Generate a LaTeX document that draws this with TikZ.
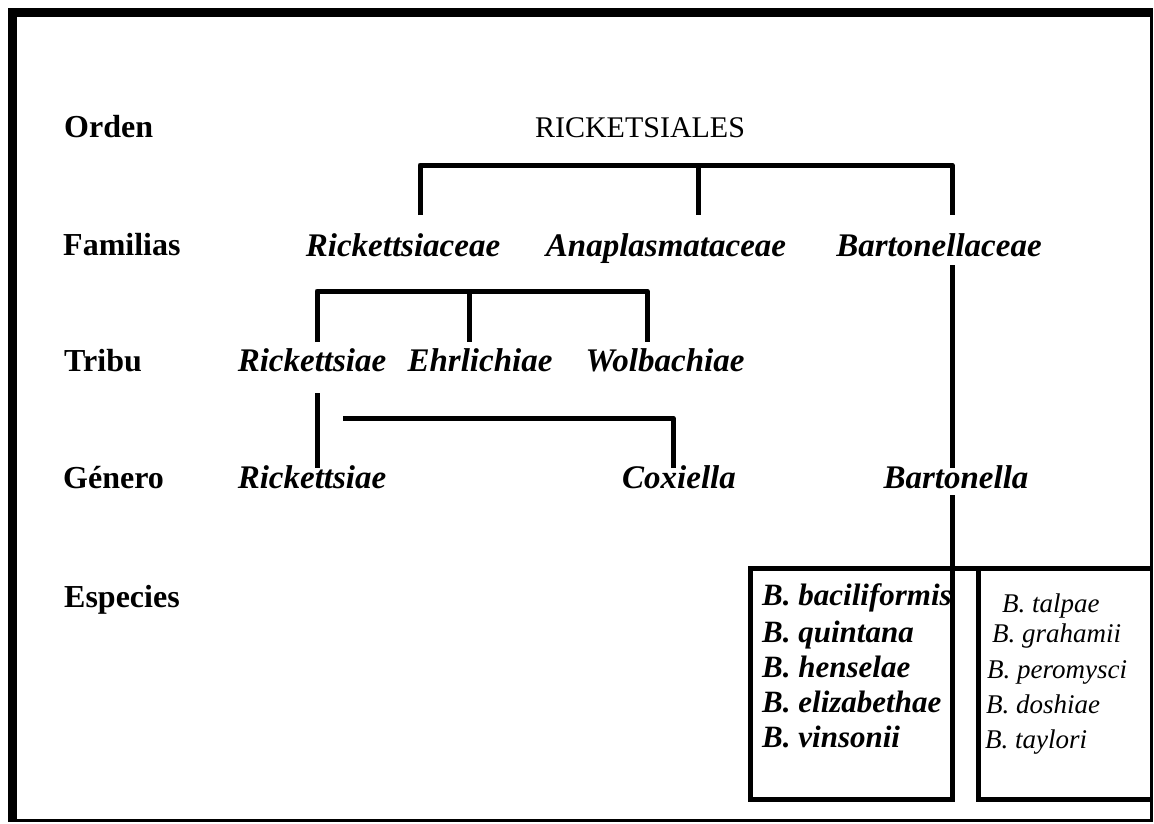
\documentclass[tikz,border=0pt]{standalone}
\usepackage{fontspec}
\setmainfont{Liberation Serif}
\begin{document}
\begin{tikzpicture}[x=1pt,y=-1pt,
 lbl/.style={anchor=base west,inner sep=0pt,font=\fontsize{32}{32}\selectfont\bfseries},
 top/.style={anchor=base,inner sep=0pt,font=\fontsize{30}{30}\selectfont},
 tax/.style={anchor=base,inner sep=0pt,font=\fontsize{33}{33}\selectfont\bfseries\itshape},
 spb/.style={anchor=base west,inner sep=0pt,font=\fontsize{31}{31}\selectfont\bfseries\itshape},
 spr/.style={anchor=base west,inner sep=0pt,font=\fontsize{27}{27}\selectfont\itshape},
 conn/.style={line width=5pt,line join=round},
 boxl/.style={line width=5pt,line join=miter}]
\useasboundingbox (0,0) rectangle (1154,823);
% outer frame
\fill (8,8) rectangle (17,822);
\fill (8,8) rectangle (1153,17);
\draw[line width=3pt] (1151,8) -- (1151,822);
\draw[line width=3pt] (8,820) -- (1153,820);
% rank labels
\node[lbl] (orden) at (64,137) {Orden};
\node[lbl] (familias) at (63,255) {Familias};
\node[lbl] (tribu) at (64,371) {Tribu};
\node[lbl] (genero) at (63,488) {Género};
\node[lbl] (especies) at (64,607) {Especies};
% taxa
\node[top] (ord) at (640,137) {RICKETSIALES};
\node[tax] (fam1) at (403,256) {Rickettsiaceae};
\node[tax] (fam2) at (666,256) {Anaplasmataceae};
\node[tax] (fam3) at (939,256) {Bartonellaceae};
\node[tax] (tri1) at (312,371) {Rickettsiae};
\node[tax] (tri2) at (480,371) {Ehrlichiae};
\node[tax] (tri3) at (665,371) {Wolbachiae};
\node[tax] (gen1) at (312,488) {Rickettsiae};
\node[tax] (gen2) at (679,488) {Coxiella};
\node[tax] (gen3) at (956,488) {Bartonella};
% species
\node[spb] (s1) at (762,605) {B. baciliformis};
\node[spb] (s2) at (762,642) {B. quintana};
\node[spb] (s3) at (762,677) {B. henselae};
\node[spb] (s4) at (762,712) {B. elizabethae};
\node[spb] (s5) at (762,747) {B. vinsonii};
\node[spr] (t1) at (1002,612) {B. talpae};
\node[spr] (t2) at (992,642) {B. grahamii};
\node[spr] (t3) at (987,678) {B. peromysci};
\node[spr] (t4) at (986,713) {B. doshiae};
\node[spr] (t5) at (985,748) {B. taylori};
% connector coordinates
\coordinate (rbar) at (698,165);
\coordinate (r1) at (420,215);
\coordinate (r2) at (698,215);
\coordinate (r3) at (952,215);
\coordinate (b1) at (952,265);
\coordinate (b2) at (952,468);
\coordinate (b3) at (952,495);
\coordinate (b4) at (952,568);
\coordinate (fbar) at (469,291);
\coordinate (f1) at (317,342);
\coordinate (f2) at (469,342);
\coordinate (f3) at (647,342);
\coordinate (g1) at (317,393);
\coordinate (g2) at (317,468);
\coordinate (c1) at (343,418);
\coordinate (c2) at (673,468);
% connectors
\draw[conn] (r1) |- (rbar) -| (r3);
\draw[conn] (rbar) -- (r2);
\draw[conn] (b1) -- (b2);
\draw[conn] (b3) -- (b4);
\draw[conn] (f1) |- (fbar) -| (f3);
\draw[conn] (fbar) -- (f2);
\draw[conn] (g1) -- (g2);
\draw[conn] (c1) -| (c2);
% species boxes
\coordinate (bx1) at (750,568);
\coordinate (bx2) at (952,799);
\coordinate (bx3) at (978,568);
\coordinate (bx4) at (1151,568);
\coordinate (bx5) at (1151,799);
\draw[boxl] (bx1) rectangle (bx2);
\draw[boxl] (bx1) -- (bx4);
\draw[boxl] (bx3) |- (bx5);
\end{tikzpicture}
\end{document}
